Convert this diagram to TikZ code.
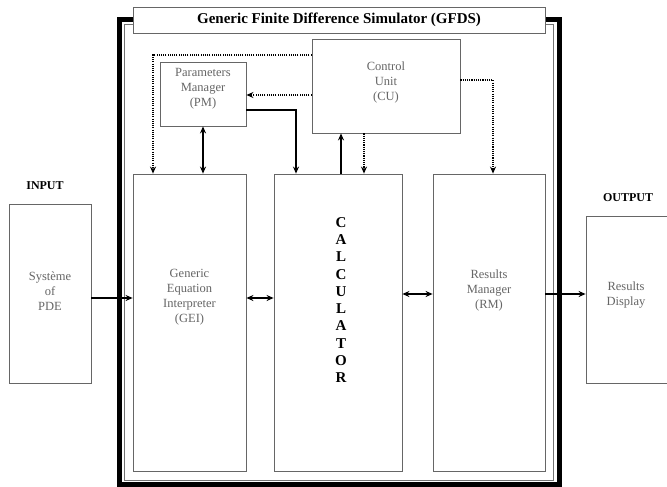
\documentclass[tikz,border=0pt]{standalone}
\usepackage{fontspec}
\setmainfont{Liberation Serif}
\usetikzlibrary{arrows.meta,calc}
\tikzset{
  box/.style={draw=black!60,line width=0.8pt,fill=white,rectangle,inner sep=0pt},
  txt/.style={text=black!60,font=\fontsize{12.5}{15}\selectfont,align=center},
  ttl/.style={font=\fontsize{12}{14}\selectfont\bfseries},
  arr/.style={line width=1.6pt,-{Stealth[length=7pt,width=6pt]}},
  biarr/.style={line width=1.6pt,{Stealth[length=7pt,width=6pt]}-{Stealth[length=7pt,width=6pt]}},
  dotarr/.style={line width=1.8pt,dash pattern=on 1.1pt off 1.1pt,-{Stealth[length=7pt,width=6pt]}}
}
\begin{document}
\begin{tikzpicture}[x=1pt,y=-1pt,line join=miter]
\useasboundingbox (0,0) rectangle (667,487);
% cadre du simulateur
\draw[line width=5pt] (119.5,19.5) rectangle (559.5,484.5);
\draw[black!55,line width=0.8pt] (124.5,24.5) rectangle (553.5,480.5);
\node[box,minimum width=412pt,minimum height=26pt,font=\fontsize{15}{17}\selectfont\bfseries] (gfds) at (339,20) {Generic Finite Difference Simulator (GFDS)};
% les blocs
\node[box,minimum width=148pt,minimum height=94pt] (cu) at (386,86) {};
\node[box,minimum width=86pt,minimum height=64pt] (pm) at (203,94) {};
\node[box,minimum width=113pt,minimum height=297pt] (gei) at (189.5,322.5) {};
\node[box,minimum width=128pt,minimum height=297pt] (calc) at (338,322.5) {};
\node[box,minimum width=112pt,minimum height=297pt] (rm) at (489,322.5) {};
\node[box,minimum width=82pt,minimum height=179pt] (inp) at (50,293.5) {};
\node[box,minimum width=86pt,minimum height=167pt] (out) at (629,299.5) {};
% textes
\node[txt] (cut) at (386,82) {Control\\Unit\\(CU)};
\node[txt] (pmt) at (203,89) {Parameters\\Manager\\(PM)};
\node[txt] (geit) at (189.5,297.5) {Generic\\Equation\\Interpreter\\(GEI)};
\node[txt] (rmt) at (489,290) {Results\\Manager\\(RM)};
\node[txt] (inpt) at (50,291) {Système\\of\\PDE};
\node[txt] (outt) at (626,295) {Results\\Display};
\node[ttl] (inlab) at (45,186) {INPUT};
\node[ttl] (outlab) at (628,198) {OUTPUT};
\node[font=\fontsize{15}{17.3}\selectfont\bfseries,align=center] (calct) at (341,300) {C\\A\\L\\C\\U\\L\\A\\T\\O\\R};
% liaisons
\coordinate (ya) at (0,298);
\coordinate (yb) at (0,294);
\coordinate (c1) at ($(calc.north)+(3,0)$);
\coordinate (c2) at ($(calc.north)+(26,0)$);
\coordinate (c3) at ($(calc.north)+(-42,0)$);
\coordinate (g1) at ($(gei.north)+(-36.5,0)$);
\coordinate (r1) at ($(rm.north)+(4,0)$);
\draw[arr] (inp.east|-ya) -- (gei.west|-ya);
\draw[biarr] (gei.east|-ya) -- (calc.west|-ya);
\draw[biarr] (calc.east|-yb) -- (rm.west|-yb);
\draw[arr] (rm.east|-yb) -- (out.west|-yb);
\draw[biarr] (pm.south) -- (pm.south|-gei.north);
\draw[arr] (pm.east|-0,110) -| (c3);
\draw[arr] (c1) -- (c1|-cu.south);
\draw[dotarr] (c2|-cu.south) -- (c2);
\draw[dotarr] (cu.west|-0,95) -- (pm.east|-0,95);
\draw[dotarr] (cu.west|-0,55) -| (g1);
\draw[dotarr] (cu.east|-0,80) -| (r1);
\end{tikzpicture}
\end{document}
